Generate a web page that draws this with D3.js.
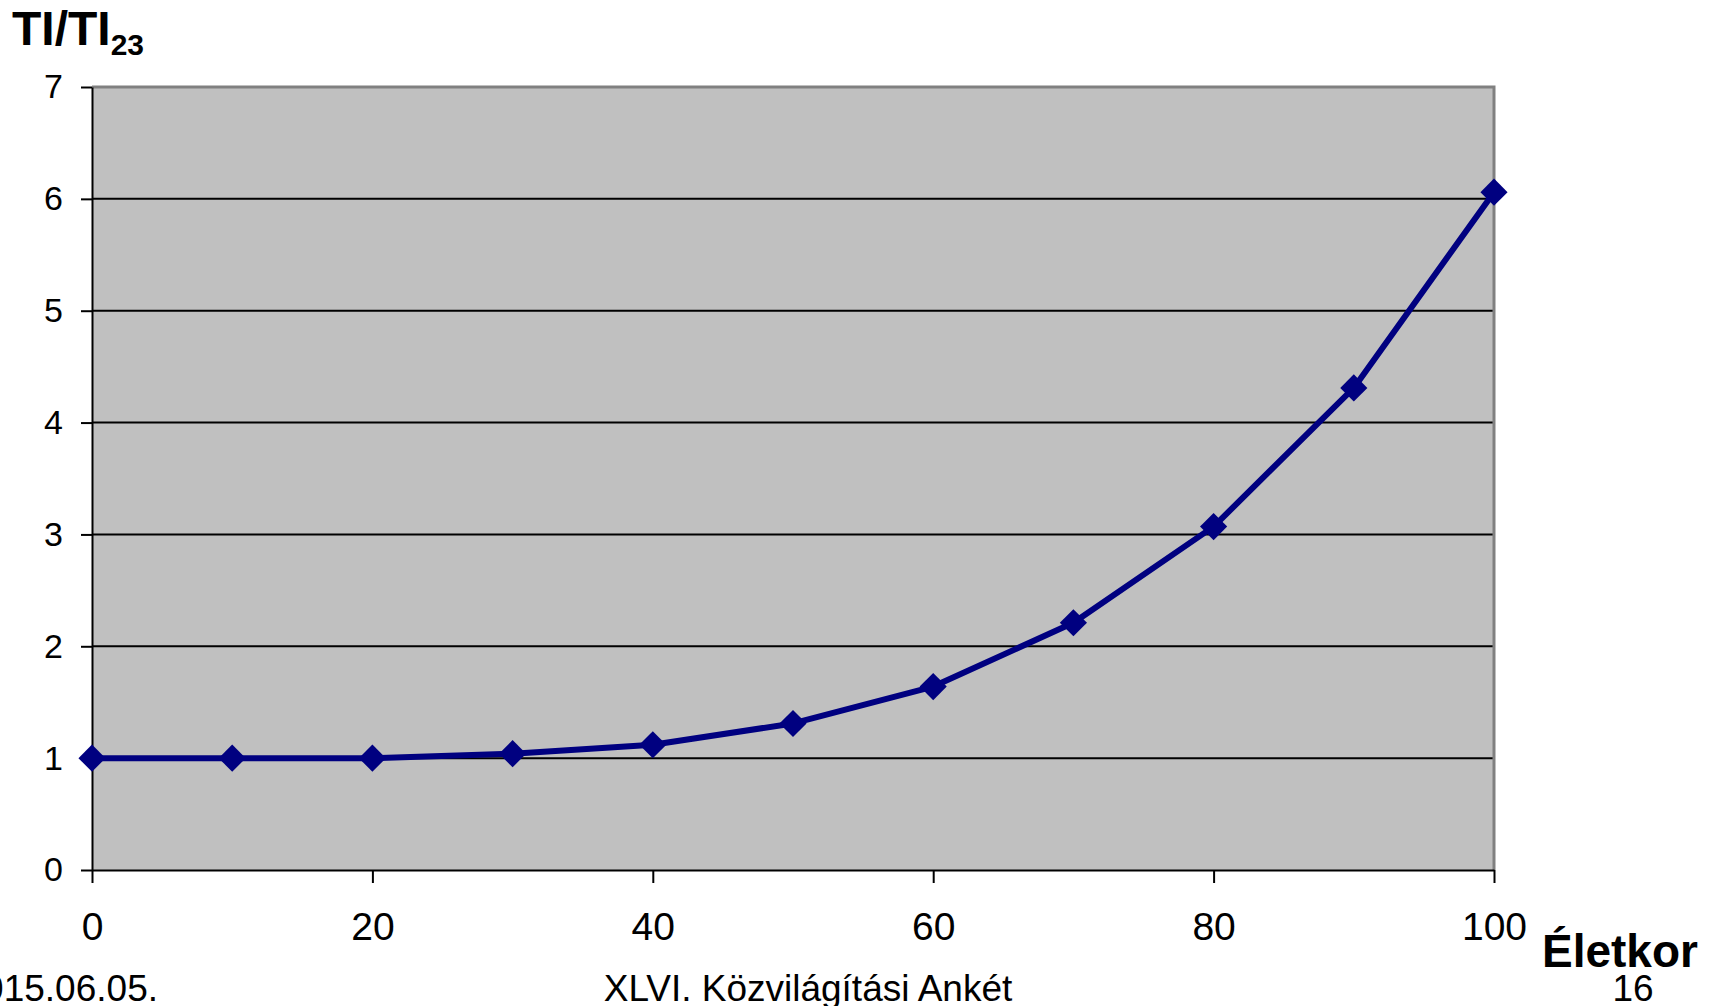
<!DOCTYPE html>
<html>
<head>
<meta charset="utf-8">
<script src="https://cdn.jsdelivr.net/npm/d3@7"></script>
<style>
  html, body { margin: 0; padding: 0; background: #ffffff; overflow: hidden; }
  svg { display: block; font-family: "Liberation Sans", Arial, sans-serif; }
</style>
</head>
<body>
<svg id="chart" width="1721" height="1006"></svg>
<script>
// Age (years) and relative threshold increment TI / TI at age 23
const ages = [0, 10, 20, 30, 40, 50, 60, 70, 80, 90, 100];
const tiRatio = [1.0, 1.0, 1.0, 1.04, 1.12, 1.31, 1.64, 2.21, 3.07, 4.31, 6.06];
const xTicks = [0, 20, 40, 60, 80, 100];
const yTicks = [0, 1, 2, 3, 4, 5, 6, 7];

const svg = d3.select("#chart");
const plot = { left: 92, right: 1494, top: 87, bottom: 870 };

const x = d3.scaleLinear().domain([0, 100]).range([plot.left, plot.right]);
const y = d3.scaleLinear().domain([0, 7]).range([plot.bottom, plot.top]);

// grey plot area
svg.append("rect")
  .attr("x", plot.left).attr("y", plot.top)
  .attr("width", plot.right - plot.left).attr("height", plot.bottom - plot.top)
  .attr("fill", "#c0c0c0");

// horizontal gridlines
svg.append("g")
  .selectAll("line")
  .data(yTicks.filter(d => d > 0 && d < 7))
  .join("line")
  .attr("x1", plot.left).attr("x2", plot.right)
  .attr("y1", d => y(d)).attr("y2", d => y(d))
  .attr("stroke", "#000").attr("stroke-width", 2);

// grey top and right frame
svg.append("path")
  .attr("d", `M${plot.left},${y(7)}H${plot.right}V${plot.bottom}`)
  .attr("fill", "none").attr("stroke", "#808080").attr("stroke-width", 3);

// y axis
const yAxis = svg.append("g")
  .attr("transform", `translate(${plot.left},0)`)
  .call(d3.axisLeft(y).tickValues(yTicks).tickFormat(d3.format("d"))
    .tickSize(11).tickPadding(18).tickSizeOuter(0));
yAxis.select(".domain").attr("stroke", "#000").attr("stroke-width", 2);
yAxis.selectAll(".tick line").attr("stroke", "#000").attr("stroke-width", 2);
yAxis.selectAll(".tick text")
  .attr("font-size", 34).attr("fill", "#000")
  .attr("font-family", "Liberation Sans, Arial, sans-serif");

// x axis
const xAxis = svg.append("g")
  .attr("transform", `translate(0,${plot.bottom})`)
  .call(d3.axisBottom(x).tickValues(xTicks).tickFormat(d3.format("d"))
    .tickSize(13).tickPadding(29).tickSizeOuter(0));
xAxis.select(".domain").attr("stroke", "#000").attr("stroke-width", 2);
xAxis.selectAll(".tick line").attr("stroke", "#000").attr("stroke-width", 2);
xAxis.selectAll(".tick text")
  .attr("font-size", 39).attr("fill", "#000")
  .attr("font-family", "Liberation Sans, Arial, sans-serif");

// data line
const pts = ages.map((a, i) => [a, tiRatio[i]]);
svg.append("path")
  .datum(pts)
  .attr("fill", "none")
  .attr("stroke", "#000080")
  .attr("stroke-width", 6)
  .attr("stroke-linejoin", "round")
  .attr("d", d3.line().x(d => x(d[0])).y(d => y(d[1])));

// diamond markers
svg.append("g")
  .selectAll("path")
  .data(pts)
  .join("path")
  .attr("transform", d => `translate(${x(d[0])},${y(d[1])})`)
  .attr("d", d3.symbol().type(d3.symbolDiamond2).size(470))
  .attr("fill", "#000080");

// y axis title with subscript
const yTitle = svg.append("text")
  .attr("x", 12).attr("y", 45)
  .attr("font-size", 48).attr("font-weight", "bold").attr("fill", "#000");
yTitle.append("tspan").text("TI/TI");
yTitle.append("tspan").attr("font-size", 30).attr("dy", 10).text("23");

// x axis title
svg.append("text")
  .attr("x", 1542).attr("y", 967)
  .attr("font-size", 46).attr("font-weight", "bold").attr("fill", "#000")
  .text("Életkor");

// footer
svg.append("text")
  .attr("x", 158).attr("y", 1001).attr("text-anchor", "end")
  .attr("font-size", 37).attr("fill", "#000")
  .text("2015.06.05.");
svg.append("text")
  .attr("x", 808).attr("y", 1001).attr("text-anchor", "middle")
  .attr("font-size", 37).attr("fill", "#000")
  .text("XLVI. Közvilágítási Ankét");
svg.append("text")
  .attr("x", 1633).attr("y", 1001).attr("text-anchor", "middle")
  .attr("font-size", 37).attr("fill", "#000")
  .text("16");
</script>
</body>
</html>
